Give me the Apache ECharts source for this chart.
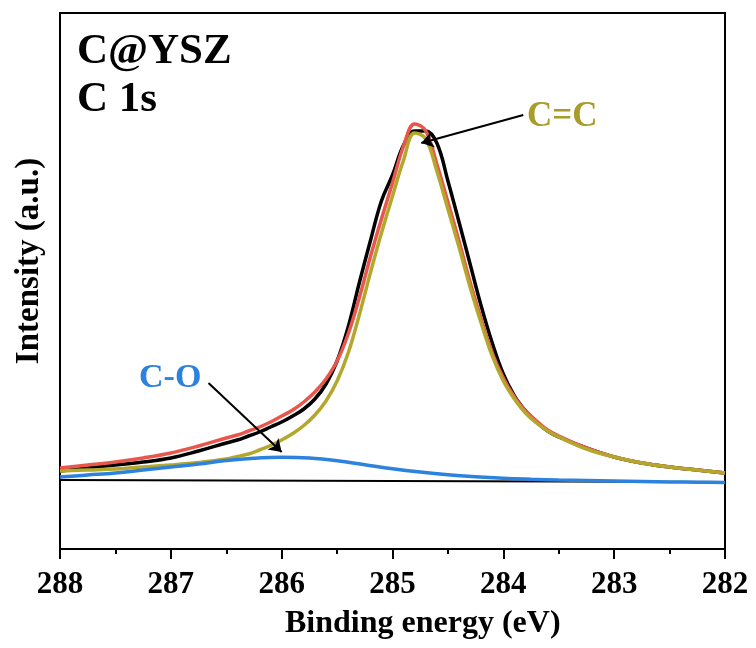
<!DOCTYPE html>
<html>
<head>
<meta charset="utf-8">
<script src="https://cdn.jsdelivr.net/npm/echarts@6/dist/echarts.min.js"></script>
<style>
html,body{margin:0;padding:0;background:#fff;}
#chart{width:756px;height:648px;}
</style>
</head>
<body>
<div id="chart"></div>
<script>
// Binding energy grid (eV) shared by the measured data, envelope and C=C fit
var energy = [288, 287.75, 287.5, 287.25, 287, 286.75,
  286.5, 286.4, 286.3, 286.2, 286.1, 286, 285.9, 285.8, 285.7, 285.6, 285.5, 285.4, 285.3, 285.2, 285.1,
  285, 284.9, 284.8, 284.7, 284.6, 284.5, 284.4, 284.3, 284.2, 284.1, 284, 283.9, 283.8, 283.7, 283.6, 283.5,
  283.25, 283, 282.75, 282.5, 282.25, 282];
// measured spectrum (black)
var rawData = [10, 13, 16, 19, 23, 30,
  38, 41, 45, 49, 54, 59, 65, 72, 82, 97, 120, 154, 198, 240, 280,
  306, 336, 350, 350, 338, 300, 259, 217, 175, 138, 107, 85, 70, 59, 50, 44,
  33, 24, 18, 14, 11, 8];
// fitted envelope (red)
var envelope = [13, 16, 19, 23, 28, 35,
  43, 46, 50, 54, 59, 65, 71, 79, 89, 102, 120, 147, 183, 224, 262,
  298, 335, 357, 350, 317, 279, 240, 199, 162, 128, 103, 84, 70, 60, 51, 45,
  33, 24, 18, 14, 11, 8];
// C=C component (olive)
var peakCC = [10, 11, 12, 14, 16, 18.5,
  22, 24.5, 27, 31, 35.5, 41, 47.5, 55.5, 66, 80, 100, 128, 166, 208, 248,
  285, 321, 348, 342, 310, 272, 234, 194, 158, 125, 100, 82, 68, 58, 50, 44,
  32, 24, 18, 14, 11, 8];
// C-O component (blue)
var energyCO = [288, 287.75, 287.5, 287.25, 287, 286.75, 286.5, 286.25, 286, 285.75, 285.5, 285.25, 285, 284.75, 284.5, 284.25, 284, 283.75, 283.5, 283.25, 283, 282.75, 282.5, 282.25, 282];
var peakCO = [4, 6, 8, 11, 14, 17, 20.5, 22.8, 23.8, 23, 20.3, 16.3, 12.3, 9, 6.3, 4.3, 2.8, 1.8, 1, 0.5, 0, -0.5, -1, -1.2, -1.5];
// background baseline
var baseE = [288, 282];
var baseV = [1, -1];
// axis
var xTicks = [288, 287, 286, 285, 284, 283, 282];

function pairs(xs, ys){ return xs.map(function(x,i){ return [x, ys[i]]; }); }

var FONT = '"Liberation Serif", "Times New Roman", serif';
var OLIVE = '#b3a72c';
var RED = '#e8564c';
var BLUE = '#2c82dc';

var chart = echarts.init(document.getElementById('chart'), null, {renderer:'canvas'});
chart.setOption({
  animation: false,
  backgroundColor: '#fff',
  grid: {left: 60, right: 31, top: 13, bottom: 99, show: true, borderColor: '#000', borderWidth: 2},
  xAxis: {
    type: 'value', min: 282, max: 288, interval: 1, inverse: true,
    axisLine: {show: true, onZero: false, lineStyle: {color: '#000', width: 2}},
    axisTick: {show: true, inside: false, length: 10, lineStyle: {color: '#000', width: 2}},
    minorTick: {show: true, splitNumber: 2, length: 5, lineStyle: {color: '#000', width: 2}},
    splitLine: {show: false},
    axisLabel: {color: '#000', fontFamily: FONT, fontWeight: 'bold', fontSize: 31, margin: 20,
      formatter: function(v){ return xTicks.indexOf(v) >= 0 ? String(v) : ''; }}
  },
  yAxis: {
    type: 'value', min: -68, max: 468,
    name: 'Intensity (a.u.)', nameLocation: 'middle', nameGap: 14, nameRotate: 90,
    nameTextStyle: {color: '#000', fontFamily: FONT, fontWeight: 'bold', fontSize: 33, padding: [0, 0, 0, 40]},
    axisLine: {show: true, onZero: false, lineStyle: {color: '#000', width: 2}},
    axisTick: {show: false}, axisLabel: {show: false}, splitLine: {show: false}
  },
  series: [
    {type: 'line', data: pairs(baseE, baseV), symbol: 'none', lineStyle: {color: '#000', width: 2}, z: 1},
    {type: 'line', data: pairs(energy, rawData), symbol: 'none', smooth: 0.4, lineStyle: {color: '#000', width: 3.5}, z: 2},
    {type: 'line', data: pairs(energy, envelope), symbol: 'none', smooth: 0.4, lineStyle: {color: RED, width: 3.5}, z: 3},
    {type: 'line', data: pairs(energy, peakCC), symbol: 'none', smooth: 0.4, lineStyle: {color: OLIVE, width: 3.5}, z: 4,
      markLine: {silent: true, symbol: ['none', 'arrow'], symbolSize: 12, label: {show: false},
        lineStyle: {color: '#000', width: 2, type: 'solid'},
        data: [[{coord: [283.82, 366]}, {coord: [284.74, 338]}]]}},
    {type: 'line', data: pairs(energyCO, peakCO), symbol: 'none', smooth: 0.4, lineStyle: {color: BLUE, width: 3.5}, z: 5,
      markLine: {silent: true, symbol: ['none', 'arrow'], symbolSize: 12, label: {show: false},
        lineStyle: {color: '#000', width: 2, type: 'solid'},
        data: [[{coord: [286.66, 98]}, {coord: [286.0, 29]}]]}}
  ],
  graphic: [
    {type: 'text', left: 77, top: 30, style: {text: 'C@YSZ', font: 'bold 43px ' + FONT, fill: '#000'}},
    {type: 'text', left: 77, top: 78, style: {text: 'C 1s', font: 'bold 43px ' + FONT, fill: '#000'}},
    {type: 'text', left: 527, top: 99, style: {text: 'C=C', font: 'bold 35px ' + FONT, fill: '#a99d29'}},
    {type: 'text', left: 139, top: 361, style: {text: 'C-O', font: 'bold 34px ' + FONT, fill: BLUE}},
    {type: 'text', left: 285, top: 608, style: {text: 'Binding energy (eV)', font: 'bold 32px ' + FONT, fill: '#000'}}
  ]
});
</script>
</body>
</html>
